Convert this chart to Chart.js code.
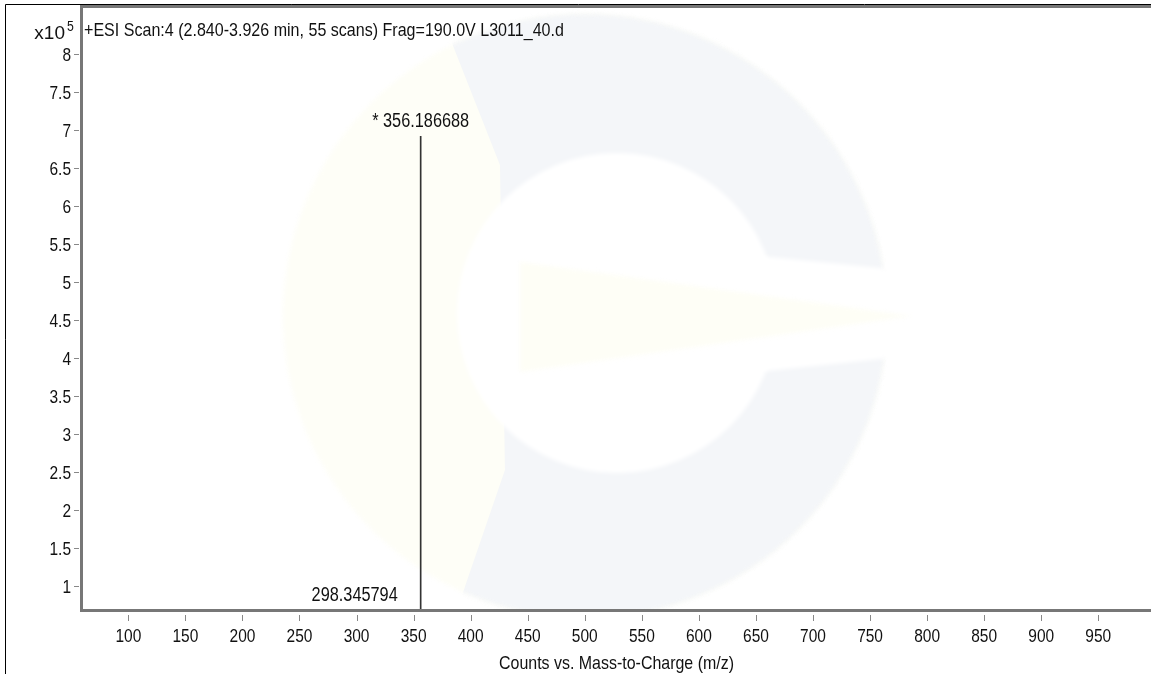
<!DOCTYPE html>
<html>
<head>
<meta charset="utf-8">
<title>ESI scan</title>
<script src="https://cdn.jsdelivr.net/npm/chart.js@4.4.1/dist/chart.umd.min.js"></script>
<style>
  html, body { margin: 0; padding: 0; background: #fff; }
  #wrap { width: 1151px; height: 674px; }
</style>
</head>
<body>
<div id="wrap"><canvas id="msChart" width="1151" height="674"></canvas></div>
<script>
// peaks (m/z, counts)
const mzValues = [298.345794, 356.186688];
const intensities = [52000, 691000];
const peakLabels = ["298.345794", "* 356.186688"];

const xTicks = [100, 150, 200, 250, 300, 350, 400, 450, 500, 550, 600, 650, 700, 750, 800, 850, 900, 950];
const yTicks = [100000, 150000, 200000, 250000, 300000, 350000, 400000, 450000,
  500000, 550000, 600000, 650000, 700000, 750000, 800000];

const titleText = "+ESI Scan:4 (2.840-3.926 min, 55 scans) Frag=190.0V L3011_40.d";
const xTitle = "Counts vs. Mass-to-Charge (m/z)";

// no narrow face installed, so squeeze Liberation Sans horizontally
const FONT = "'Liberation Sans', Arial, sans-serif";
const SQUEEZE = 0.815;

function narrowText(ctx, text, x, y, align, size, sx) {
  ctx.save();
  ctx.font = size + "px " + FONT;
  ctx.textAlign = align;
  ctx.textBaseline = "alphabetic";
  ctx.translate(x, y);
  ctx.scale(sx || SQUEEZE, 1);
  ctx.fillText(text, 0, 0);
  ctx.restore();
}

function drawWatermark(ctx, area) {
  ctx.save();
  ctx.beginPath();
  ctx.rect(area.left, area.top, area.width, area.height);
  ctx.clip();
  ctx.filter = "blur(2px)";
  const cx = 585, cy = 316, r = 302;
  ctx.fillStyle = "#fefef7";
  ctx.beginPath();
  ctx.arc(cx, cy, r, 0, Math.PI * 2);
  ctx.fill();
  // blue-grey ring on the right
  ctx.save();
  ctx.beginPath();
  ctx.moveTo(435, 0);
  ctx.lineTo(1151, 0);
  ctx.lineTo(1151, 674);
  ctx.lineTo(435, 674);
  ctx.lineTo(505, 470);
  ctx.lineTo(500, 165);
  ctx.closePath();
  ctx.clip();
  ctx.fillStyle = "#f4f6f9";
  ctx.beginPath();
  ctx.arc(cx, cy, r, 0, Math.PI * 2);
  ctx.fill();
  ctx.restore();
  // hole and opening
  ctx.fillStyle = "#ffffff";
  ctx.beginPath();
  ctx.arc(617, 313, 160, 0, Math.PI * 2);
  ctx.fill();
  ctx.beginPath();
  ctx.moveTo(700, 250);
  ctx.lineTo(900, 270);
  ctx.lineTo(900, 357);
  ctx.lineTo(700, 378);
  ctx.closePath();
  ctx.fill();
  // spike
  ctx.fillStyle = "#fefef6";
  ctx.beginPath();
  ctx.moveTo(520, 262);
  ctx.lineTo(912, 316);
  ctx.lineTo(520, 372);
  ctx.closePath();
  ctx.fill();
  ctx.restore();
}

const framePlugin = {
  id: "frame",
  beforeDatasetsDraw(chart) {
    drawWatermark(chart.ctx, chart.chartArea);
  },
  afterDraw(chart) {
    const ctx = chart.ctx;
    const a = chart.chartArea;
    const xs = chart.scales.x;
    const ys = chart.scales.y;
    ctx.save();

    // outer window lines
    ctx.strokeStyle = "#000";
    ctx.lineWidth = 1;
    ctx.beginPath();
    ctx.moveTo(5.5, 674);
    ctx.lineTo(5.5, 4.5);
    ctx.lineTo(1151, 4.5);
    ctx.stroke();

    // plot frame
    ctx.strokeStyle = "#777";
    ctx.lineWidth = 3;
    ctx.beginPath();
    ctx.moveTo(1151, a.top + 0.5);
    ctx.lineTo(a.left - 0.5, a.top + 0.5);
    ctx.lineTo(a.left - 0.5, a.bottom + 0.5);
    ctx.lineTo(1151, a.bottom + 0.5);
    ctx.stroke();

    // tick marks
    ctx.strokeStyle = "#888";
    ctx.lineWidth = 1;
    ctx.beginPath();
    xTicks.forEach((v) => {
      const px = Math.round(xs.getPixelForValue(v)) + 0.5;
      ctx.moveTo(px, a.bottom + 5);
      ctx.lineTo(px, a.bottom + 11);
    });
    yTicks.forEach((v) => {
      const py = Math.round(ys.getPixelForValue(v)) + 0.5;
      ctx.moveTo(a.left - 8, py);
      ctx.lineTo(a.left - 3, py);
    });
    ctx.stroke();

    ctx.fillStyle = "#111";
    // tick labels
    xTicks.forEach((v) => {
      narrowText(ctx, String(v), xs.getPixelForValue(v), a.bottom + 32, "center", 19);
    });
    yTicks.forEach((v) => {
      narrowText(ctx, String(v / 100000), a.left - 11, ys.getPixelForValue(v) + 7, "right", 19);
    });

    // titles
    narrowText(ctx, titleText, a.left + 2, 36, "left", 19, 0.845);
    narrowText(ctx, "x10", 65, 39, "right", 19, 1);
    narrowText(ctx, "5", 67, 31, "left", 15);
    narrowText(ctx, xTitle, (a.left + a.right) / 2, 669, "center", 19, 0.84);

    // peak labels
    mzValues.forEach((mz, i) => {
      const px = xs.getPixelForValue(mz);
      const top = Math.min(ys.getPixelForValue(intensities[i]), a.bottom);
      narrowText(ctx, peakLabels[i], px, top - 9, "center", 20);
    });
    ctx.restore();
  },
};

new Chart(document.getElementById("msChart"), {
  type: "bar",
  data: {
    datasets: [
      {
        data: mzValues.map((x, i) => ({ x: x, y: intensities[i] })),
        backgroundColor: "#333",
        borderWidth: 0,
        barThickness: 1,
      },
    ],
  },
  options: {
    responsive: false,
    animation: false,
    devicePixelRatio: 1,
    layout: { padding: { top: 6, left: 0, right: 0, bottom: 0 } },
    plugins: {
      legend: { display: false },
      tooltip: { enabled: false },
    },
    scales: {
      x: {
        type: "linear",
        offset: false,
        min: 59.4,
        max: 996.2,
        grid: { display: false, drawTicks: false, offset: false },
        border: { display: false },
        afterBuildTicks: (s) => { s.ticks = xTicks.map((v) => ({ value: v })); },
        afterFit: (s) => { s.height = 64; s.paddingLeft = 0; s.paddingRight = 0; },
        ticks: { display: false },
      },
      y: {
        type: "linear",
        min: 67800,
        max: 862500,
        grid: { display: false, drawTicks: false },
        border: { display: false },
        afterBuildTicks: (s) => { s.ticks = yTicks.map((v) => ({ value: v })); },
        afterFit: (s) => { s.width = 82; s.paddingTop = 0; s.paddingBottom = 0; },
        ticks: { display: false },
      },
    },
  },
  plugins: [framePlugin],
});
</script>
</body>
</html>
